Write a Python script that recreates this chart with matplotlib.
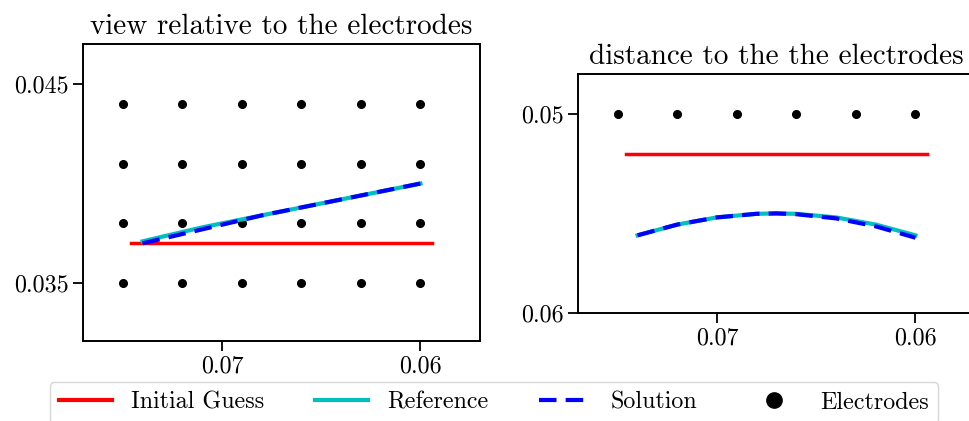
import numpy as np
import matplotlib
matplotlib.use('Agg')
import matplotlib.pyplot as plt
from matplotlib.lines import Line2D

plt.rcParams['font.family'] = 'serif'
plt.rcParams['font.serif'] = ['cmr10']
plt.rcParams['mathtext.fontset'] = 'cm'
plt.rcParams['axes.unicode_minus'] = False
plt.rcParams['axes.formatter.use_mathtext'] = True

# electrode grid (x along the array, y across)
elec_x = [0.075, 0.072, 0.069, 0.066, 0.063, 0.060]
elec_y = [0.035, 0.038, 0.041, 0.044]
elec_depth = 0.050

# left panel: position relative to electrodes
guess_x = [0.0746, 0.0594]
guess_y = [0.0370, 0.0370]
ref_x = [0.074, 0.071, 0.068, 0.065, 0.062, 0.060]
ref_y = [0.0371, 0.0378, 0.0384, 0.0390, 0.0396, 0.0400]
sol_x = [0.074, 0.071, 0.068, 0.065, 0.062, 0.060]
sol_y = [0.0370, 0.0377, 0.0384, 0.0390, 0.0396, 0.0400]

# right panel: distance to the electrodes
guess_d = [0.0520, 0.0520]
curve_x = [0.074, 0.072, 0.070, 0.068, 0.067, 0.066, 0.064, 0.062, 0.060]
ref_d = [0.0561, 0.05556, 0.0552, 0.05502, 0.0550, 0.05502, 0.0552, 0.05556, 0.0561]
sol_d = [0.0561, 0.05556, 0.0552, 0.05502, 0.0550, 0.05504, 0.05525, 0.05565, 0.05622]

fig = plt.figure(figsize=(9.69, 4.21), dpi=100)
W, H = 969, 421

def px_axes(x0, y0, x1, y1):
    return fig.add_axes([x0 / W, 1 - y1 / H, (x1 - x0) / W, (y1 - y0) / H])

lw = 2.5
dash = (0, (4.2, 2.2))
ax1 = px_axes(83, 44, 480, 341)
ex, ey = np.meshgrid(elec_x, elec_y)
ax1.plot(ex.ravel(), ey.ravel(), 'k.', ms=11, ls='none')
ax1.plot(guess_x, guess_y, color='r', lw=lw)
ax1.plot(ref_x, ref_y, color='c', lw=3)
ax1.plot(sol_x, sol_y, color='b', lw=3, ls=dash)
ax1.set_xlim(0.0770, 0.0570)
ax1.set_ylim(0.0321, 0.0470)
ax1.set_xticks([0.07, 0.06])
ax1.set_xticklabels(['0.07', '0.06'])
ax1.set_yticks([0.045, 0.035])
ax1.set_yticklabels(['0.045', '0.035'])
ax1.set_title('view relative to the electrodes', fontsize=21, pad=7)

ax2 = px_axes(578, 74, 975, 313)
ax2.plot(elec_x, [elec_depth] * len(elec_x), 'k.', ms=11, ls='none')
ax2.plot(guess_x, guess_d, color='r', lw=lw)
ax2.plot(curve_x, ref_d, color='c', lw=3)
ax2.plot(curve_x, sol_d, color='b', lw=3, ls=dash)
ax2.set_xlim(0.0770, 0.0570)
ax2.set_ylim(0.0600, 0.0480)
ax2.set_xticks([0.07, 0.06])
ax2.set_xticklabels(['0.07', '0.06'])
ax2.set_yticks([0.05, 0.06])
ax2.set_yticklabels(['0.05', '0.06'])
ax2.set_title('distance to the the electrodes', fontsize=21, pad=7)

for ax in (ax1, ax2):
    ax.tick_params(labelsize=17.3, length=7, width=1.3)
    for s in ax.spines.values():
        s.set_linewidth(1.4)

handles = [
    Line2D([], [], color='r', lw=3),
    Line2D([], [], color='c', lw=3),
    Line2D([], [], color='b', lw=3, ls=dash),
    Line2D([], [], color='k', marker='.', ms=22, ls='none'),
]
labels = ['Initial Guess', 'Reference', 'Solution', 'Electrodes']
fig.legend(handles, labels, loc='upper center', bbox_to_anchor=(494 / W, 1 - 382 / H),
           ncol=4, fontsize=17.3, handlelength=2.2, columnspacing=2.1, handletextpad=0.8,
           borderaxespad=0)

fig.savefig('out.png', dpi=100)
